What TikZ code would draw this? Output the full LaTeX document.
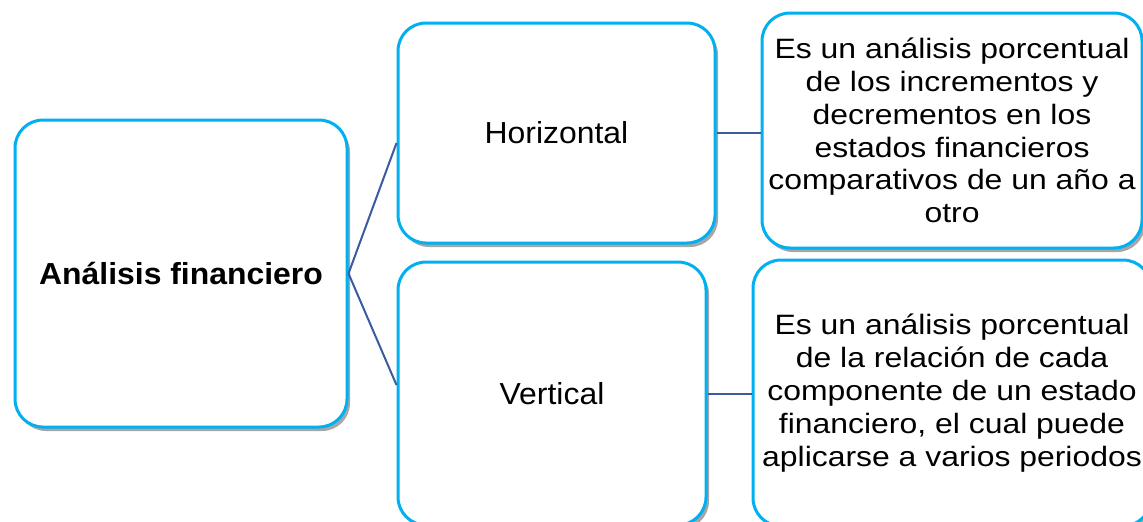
\documentclass[tikz,border=0pt]{standalone}
\usepackage{fontspec}
\setmainfont{Liberation Sans}[FakeStretch=1.05]
\newfontfamily\descFont{Liberation Sans}[FakeStretch=1.14]
\usepackage{tikz}
\usetikzlibrary{positioning, shadows}
\definecolor{boxBlue}{HTML}{00B0F0}
\definecolor{lineBlue}{HTML}{3A5BA0}

\begin{document}
\begin{tikzpicture}[x=0.5pt,y=-0.5pt]
    \tikzstyle{every node} = [font=\fontsize{15.2pt}{18pt}\selectfont]
    \tikzstyle{block} = [draw=boxBlue, line width=1.5pt, rectangle, fill=white, rounded corners=14pt, align=center, inner sep=0pt,
      drop shadow={shadow xshift=1.5pt, shadow yshift=-2pt, fill=black, opacity=0.35}]
    \tikzstyle{desc} = [block, font=\descFont\fontsize{14pt}{16.4pt}\selectfont]
    \tikzstyle{link} = [draw=lineBlue, line width=1pt]
    \clip (0,0) rectangle (1143,521);
    \fill[white] (0,0) rectangle (1143,521);
    % place nodes
    \node[block, minimum width=166pt, minimum height=153.5pt] (analisisFinanciero) at (181,273.5) {\textbf{Análisis financiero}};
    \node[block, minimum width=158.5pt, minimum height=110pt] (horizontal) at (556.5,133) {Horizontal};
    \node[block, minimum width=154pt, minimum height=131.5pt] (vertical) at (552,393.5) {Vertical};
    \node[desc, minimum width=190pt, minimum height=117.5pt] (descHorizontal) at (952,130.5)
      {Es un análisis porcentual\\ de los incrementos y\\ decrementos en los\\ estados financieros\\ comparativos de un año a\\ otro};
    \node[desc, minimum width=199pt, minimum height=133pt] (descVertical) at (952,393)
      {Es un análisis porcentual\\ de la relación de cada\\ componente de un estado\\ financiero, el cual puede\\ aplicarse a varios periodos};

    % Connections
    \draw[link] (analisisFinanciero.east)--([yshift=-5pt]horizontal.west);
    \draw[link] (analisisFinanciero.east)--([yshift=4.25pt]vertical.west);
    \draw[link] (horizontal.east)--(horizontal.east -| descHorizontal.west);
    \draw[link] (vertical.east)--(vertical.east -| descVertical.west);
\end{tikzpicture}
\end{document}
